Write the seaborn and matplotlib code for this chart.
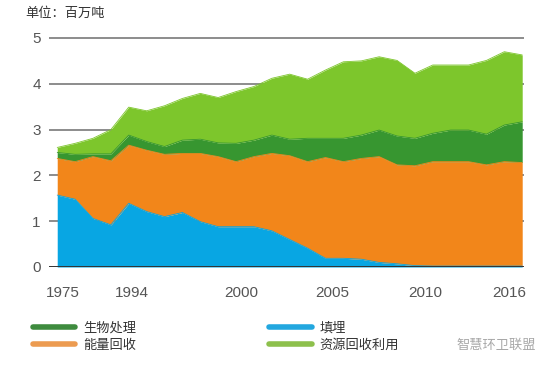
import numpy as np
import pandas as pd
import matplotlib
matplotlib.use("Agg")
import matplotlib.pyplot as plt
from matplotlib.lines import Line2D
import seaborn as sns

# ---------------- data (million tons) ----------------
years = ["1975", "1980", "1985", "1990"] + [str(y) for y in range(1994, 2017)]
landfill = [1.57, 1.48, 1.06, 0.92, 1.39, 1.21, 1.10, 1.19, 0.99, 0.88, 0.88, 0.88, 0.79, 0.60,
            0.41, 0.19, 0.19, 0.17, 0.10, 0.07, 0.03, 0.02, 0.02, 0.02, 0.02, 0.02, 0.02]
energy_top = [2.37, 2.30, 2.41, 2.32, 2.66, 2.55, 2.46, 2.48, 2.48, 2.41, 2.30, 2.41, 2.48, 2.43,
              2.30, 2.39, 2.30, 2.37, 2.41, 2.23, 2.21, 2.30, 2.30, 2.30, 2.23, 2.30, 2.28]
bio_top = [2.50, 2.46, 2.47, 2.47, 2.88, 2.74, 2.63, 2.77, 2.79, 2.71, 2.70, 2.77, 2.88, 2.79,
           2.81, 2.81, 2.81, 2.88, 2.99, 2.86, 2.81, 2.92, 2.99, 2.99, 2.90, 3.10, 3.17]
total = [2.61, 2.70, 2.81, 3.00, 3.49, 3.41, 3.52, 3.68, 3.79, 3.70, 3.83, 3.94, 4.12, 4.21,
         4.10, 4.30, 4.48, 4.50, 4.59, 4.51, 4.23, 4.41, 4.41, 4.41, 4.51, 4.70, 4.63]

energy = list(np.round(np.array(energy_top) - np.array(landfill), 3))
bio = list(np.round(np.array(bio_top) - np.array(energy_top), 3))
recycle = list(np.round(np.array(total) - np.array(bio_top), 3))

tick_years = ["1975", "1994", "2000", "2005", "2010", "2016"]
y_ticks = [0, 1, 2, 3, 4, 5]

names = ["填埋", "能量回收", "生物处理", "资源回收利用"]
fill_colors = ["#08A6E3", "#F2861A", "#379630", "#7DC62C"]
legend_colors = {"生物处理": "#3E8B3E", "能量回收": "#EC9B50",
                 "填埋": "#22A7DF", "资源回收利用": "#8DC04C"}

# ---------------- style ----------------
sns.set_theme(style="white")
plt.rcParams["font.family"] = ["Noto Sans CJK SC", "DejaVu Sans"]

fig = plt.figure(figsize=(5.51, 3.67), dpi=100)
ax = fig.add_axes([49 / 551, 1 - 267 / 367, 475 / 551, (267 - 33.4) / 367])

x = np.arange(len(years))
series = [landfill, energy, bio, recycle]

for yv in y_ticks[1:]:
    ax.axhline(yv, color="#6E6E6E", lw=1.1, zorder=0)

ax.stackplot(x, *series, colors=fill_colors, linewidth=0, zorder=2)

# thin boundary lines with seaborn to smooth edges
cum = np.cumsum(np.array(series), axis=0)
for i, c in enumerate(fill_colors):
    df = pd.DataFrame({"x": x, "y": cum[i]})
    sns.lineplot(data=df, x="x", y="y", ax=ax, color=c, lw=0.6, zorder=3, legend=False)

ax.axhline(0, color="#333333", lw=1.4, zorder=4)

ax.set_xlim(-0.46, 26.1)
ax.set_ylim(0, 5.1)
for s in ax.spines.values():
    s.set_visible(False)

tick_pos = [years.index(t) for t in tick_years]
tick_pos = [p + d for p, d in zip(tick_pos, [0.3, 0.2, 0.3, 0.4, 0.6, -0.7])]
ax.set_xticks(tick_pos)
ax.set_xticklabels(tick_years, fontsize=11, color="#555555", family=["Liberation Sans", "DejaVu Sans"])
ax.set_yticks(y_ticks)
ax.set_yticklabels([str(v) for v in y_ticks], fontsize=11, color="#555555",
                   family=["Liberation Sans", "DejaVu Sans"])
ax.tick_params(axis="x", length=0, pad=14)
ax.tick_params(axis="y", length=0, pad=6)
ax.set_xlabel("")
ax.set_ylabel("")

fig.text(25 / 551, 1 - 13 / 367, "单位：百万吨", fontsize=9.5, color="#333333",
         va="center", ha="left")

order = ["生物处理", "能量回收", "填埋", "资源回收利用"]
handles = [Line2D([0], [0], color=legend_colors[n], lw=4) for n in order]
fig.legend(handles, order, ncol=2, loc="upper left",
           bbox_to_anchor=(33 / 551, 1 - 322 / 367), frameon=False,
           fontsize=9.5, handlelength=3.2, handletextpad=0.6,
           columnspacing=10.1, labelspacing=0.3, labelcolor="#333333",
           borderaxespad=0, borderpad=0)

fig.text(456 / 551, 1 - 345 / 367, "智慧环卫联盟", fontsize=9.5, color="#A8A8A8",
         va="center", ha="left")

fig.savefig("out.png", dpi=100)
